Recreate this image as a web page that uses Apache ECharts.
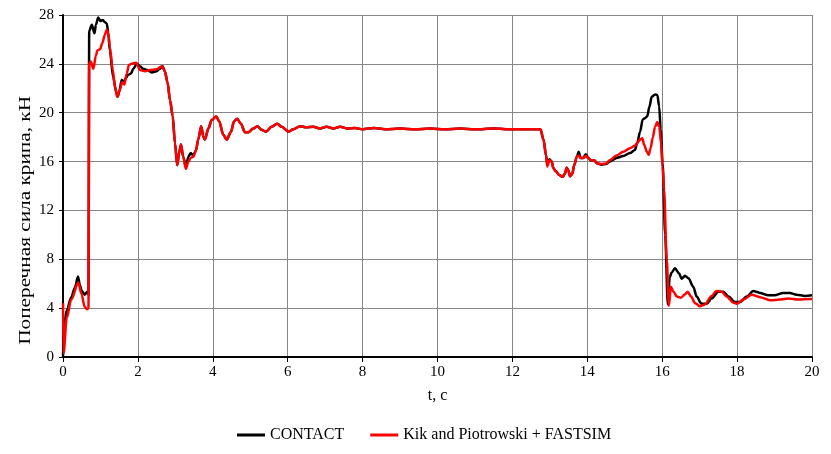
<!DOCTYPE html>
<html>
<head>
<meta charset="utf-8">
<script src="https://cdn.jsdelivr.net/npm/echarts@6/dist/echarts.min.js"></script>
<style>html,body{margin:0;padding:0;background:#fff}#c{width:831px;height:454px}</style>
</head>
<body>
<div id="c"></div>
<script>
const seriesNames = ['CONTACT', 'Kik and Piotrowski + FASTSIM'];
const xTicks = {min: 0, max: 20, step: 2};
const yTicks = {min: 0, max: 28, step: 4};
const xName = 't, c';
const yName = 'Поперечная сила крипа, кН';

// CONTACT: [t, force]
const contact = [
 [0,0],[0.03,2.6],[0.1,3.8],[0.22,4.9],[0.32,5.7],[0.4,6.6],[0.45,5.9],[0.5,5.4],[0.58,5.1],[0.65,5.35],[0.68,5.1],
 [0.7,26.7],[0.77,27.2],[0.84,26.5],[0.88,27.2],[0.94,27.8],[1.0,27.5],[1.06,27.6],[1.12,27.4],[1.17,27.3],[1.21,26.5],
 [1.25,25.1],[1.34,22.9],[1.42,21.7],[1.46,21.3],[1.5,21.7],[1.57,22.7],[1.61,22.4],[1.67,22.8],[1.74,23.1],[1.81,23.2],
 [1.88,23.6],[1.97,24.0],[2.06,23.8],[2.14,23.6],[2.25,23.5],[2.37,23.3],[2.5,23.4],[2.59,23.6],[2.66,23.8],[2.72,23.4],
 [2.79,22.5],[2.86,21.0],[2.93,19.7],[2.99,17.5],[3.05,15.7],[3.1,16.7],[3.15,17.4],[3.21,16.4],[3.28,15.6],[3.35,16.4],
 [3.41,16.7],[3.48,16.5],[3.55,16.9],[3.61,17.8],[3.69,18.9],[3.75,18.0],[3.79,17.8],[3.88,18.7],[3.97,19.4],[4.09,19.7],
 [4.17,19.3],[4.28,18.2],[4.37,17.8],[4.48,18.4],[4.57,19.3],[4.65,19.5],[4.75,19.1],[4.86,18.4],[4.95,18.4],[5.08,18.7],
 [5.19,18.9],[5.3,18.6],[5.42,18.45],[5.57,18.85],[5.72,19.1],[5.84,18.85],[6.02,18.45],[6.15,18.65],[6.33,18.9],[6.5,18.8],
 [6.68,18.85],[6.86,18.7],[7.04,18.85],[7.22,18.7],[7.4,18.85],[7.6,18.7],[7.8,18.75],[8.0,18.65],[8.3,18.75],[8.6,18.65],
 [9.0,18.7],[9.4,18.65],[9.8,18.7],[10.2,18.65],[10.6,18.7],[11.0,18.65],[11.5,18.7],[12.0,18.65],[12.5,18.65],[12.75,18.65],
 [12.83,17.8],[12.9,16.5],[12.93,15.8],[12.99,16.2],[13.05,16.0],[13.09,15.5],[13.16,15.2],[13.25,14.9],[13.34,14.75],[13.4,15.0],
 [13.45,15.5],[13.49,15.3],[13.54,14.8],[13.6,15.0],[13.65,15.7],[13.72,16.4],[13.77,16.8],[13.82,16.3],[13.89,16.3],[13.96,16.6],
 [14.03,16.3],[14.09,16.1],[14.18,16.1],[14.27,15.85],[14.38,15.75],[14.5,15.8],[14.6,16.0],[14.78,16.3],[14.96,16.45],[15.14,16.7],
 [15.27,16.95],[15.33,17.5],[15.41,18.45],[15.48,19.45],[15.54,19.55],[15.6,19.7],[15.66,20.5],[15.72,21.3],[15.81,21.5],[15.87,21.45],
 [15.92,20.5],[15.96,18.6],[16.01,15.9],[16.08,10.0],[16.15,4.3],[16.2,6.5],[16.25,6.9],[16.34,7.26],[16.45,6.85],[16.52,6.4],
 [16.61,6.65],[16.7,6.45],[16.83,5.75],[16.92,4.95],[17.05,4.35],[17.19,4.35],[17.32,4.8],[17.5,5.35],[17.63,5.35],[17.77,4.95],
 [17.94,4.5],[18.08,4.5],[18.26,4.95],[18.43,5.4],[18.61,5.25],[18.83,5.05],[19.0,5.05],[19.23,5.25],[19.41,5.25],[19.59,5.1],
 [19.81,5.0],[20,5.05]
];

// Kik and Piotrowski + FASTSIM: [t, force]
const kik = [
 [0,4.4],[0.015,0.3],[0.1,3.2],[0.22,4.7],[0.41,6.1],[0.49,5.2],[0.58,4.1],[0.64,3.9],[0.68,4.0],
 [0.7,24.0],[0.74,24.2],[0.81,23.6],[0.88,24.7],[0.92,25.1],[0.99,25.2],[1.05,25.7],[1.12,26.4],[1.17,26.8],[1.21,26.5],
 [1.25,25.4],[1.33,23.5],[1.39,22.1],[1.45,21.3],[1.52,21.9],[1.58,22.5],[1.64,22.3],[1.7,23.2],[1.76,23.9],[1.83,24.0],
 [1.95,24.1],[2.06,23.5],[2.19,23.4],[2.32,23.5],[2.5,23.55],[2.64,23.8],[2.72,23.4],
 [2.79,22.5],[2.86,21.0],[2.93,19.7],[2.99,17.5],[3.05,15.7],[3.1,16.7],[3.15,17.4],[3.21,16.4],[3.28,15.4],[3.35,16.0],
 [3.41,16.3],[3.48,16.4],[3.55,16.9],[3.61,17.8],[3.69,18.9],[3.75,18.0],[3.79,17.8],[3.88,18.7],[3.97,19.4],[4.09,19.7],
 [4.17,19.3],[4.28,18.2],[4.37,17.8],[4.48,18.4],[4.57,19.3],[4.65,19.5],[4.75,19.1],[4.86,18.4],[4.95,18.4],[5.08,18.7],
 [5.19,18.9],[5.3,18.6],[5.42,18.45],[5.57,18.85],[5.72,19.1],[5.84,18.85],[6.02,18.45],[6.15,18.65],[6.33,18.9],[6.5,18.8],
 [6.68,18.85],[6.86,18.7],[7.04,18.85],[7.22,18.7],[7.4,18.85],[7.6,18.7],[7.8,18.75],[8.0,18.65],[8.3,18.75],[8.6,18.65],
 [9.0,18.7],[9.4,18.65],[9.8,18.7],[10.2,18.65],[10.6,18.7],[11.0,18.65],[11.5,18.7],[12.0,18.65],[12.5,18.65],[12.75,18.65],
 [12.83,17.8],[12.9,16.5],[12.93,15.6],[12.99,16.1],[13.05,16.0],[13.09,15.45],[13.16,15.2],[13.25,14.9],[13.34,14.75],[13.4,15.0],
 [13.45,15.5],[13.49,15.3],[13.54,14.8],[13.6,15.0],[13.65,15.7],[13.72,16.4],[13.77,16.5],[13.82,16.3],[13.89,16.3],[13.96,16.45],
 [14.03,16.3],[14.09,16.1],[14.18,16.1],[14.27,15.85],[14.38,15.8],[14.5,15.85],[14.6,16.1],[14.78,16.5],[14.96,16.8],[15.14,17.1],
 [15.27,17.3],[15.33,17.5],[15.41,17.8],[15.47,17.9],[15.52,17.35],[15.59,16.8],[15.64,16.55],[15.69,17.1],[15.75,18.0],[15.81,18.85],
 [15.87,19.25],[15.92,18.85],[15.97,17.5],[16.01,15.6],[16.05,13.7],[16.12,8.0],[16.18,4.2],[16.23,5.75],[16.3,5.35],[16.39,4.95],
 [16.5,4.85],[16.61,5.13],[16.68,5.35],[16.77,4.95],[16.88,4.4],[17.01,4.15],[17.14,4.3],[17.32,5.0],[17.45,5.4],[17.59,5.35],
 [17.72,4.95],[17.9,4.45],[17.99,4.35],[18.17,4.7],[18.39,5.1],[18.61,4.9],[18.88,4.65],[19.15,4.7],[19.37,4.78],[19.63,4.7],
 [19.95,4.75],[20,4.75]
];

const serif = 'Liberation Serif, Times New Roman, serif';
const chart = echarts.init(document.getElementById('c'), null, {renderer: 'canvas'});
chart.setOption({
  animation: false,
  backgroundColor: '#fff',
  grid: {left: 63, right: 19, top: 15, bottom: 97, containLabel: false},
  legend: {
    left: 232, top: 422,
    icon: 'rect', itemWidth: 28, itemHeight: 3, itemGap: 26,
    textStyle: {fontFamily: serif, fontSize: 16, color: '#000'},
    data: seriesNames
  },
  xAxis: {
    type: 'value', min: xTicks.min, max: xTicks.max, interval: xTicks.step,
    name: xName, nameLocation: 'middle', nameGap: 31,
    nameTextStyle: {fontFamily: serif, fontSize: 16, color: '#000'},
    axisLine: {lineStyle: {color: '#000', width: 2}},
    axisTick: {show: true, length: 5, lineStyle: {color: '#000', width: 1}},
    axisLabel: {fontFamily: serif, fontSize: 15, color: '#000', margin: 8},
    splitLine: {show: true, lineStyle: {color: '#878787', width: 1}}
  },
  yAxis: {
    type: 'value', min: yTicks.min, max: yTicks.max, interval: yTicks.step,
    axisLine: {show: true, lineStyle: {color: '#000', width: 2}},
    axisTick: {show: true, length: 4, lineStyle: {color: '#000', width: 1}},
    axisLabel: {fontFamily: serif, fontSize: 15, color: '#000', margin: 9},
    splitLine: {show: true, lineStyle: {color: '#878787', width: 1}}
  },
  graphic: [{
    type: 'text', left: 18, top: 96, rotation: Math.PI / 2, scaleX: 1.33,
    style: {text: yName, font: '16px ' + serif, fill: '#000'}
  }],
  series: [
    {name: seriesNames[0], type: 'line', data: contact, symbol: 'none', smooth: 0.3, smoothMonotone: 'x',
     lineStyle: {color: '#000', width: 2.5}, itemStyle: {color: '#000'}, z: 2},
    {name: seriesNames[1], type: 'line', data: kik, symbol: 'none', smooth: 0.3, smoothMonotone: 'x',
     lineStyle: {color: '#ff0000', width: 2.5}, itemStyle: {color: '#ff0000'}, z: 3}
  ]
});
</script>
</body>
</html>
